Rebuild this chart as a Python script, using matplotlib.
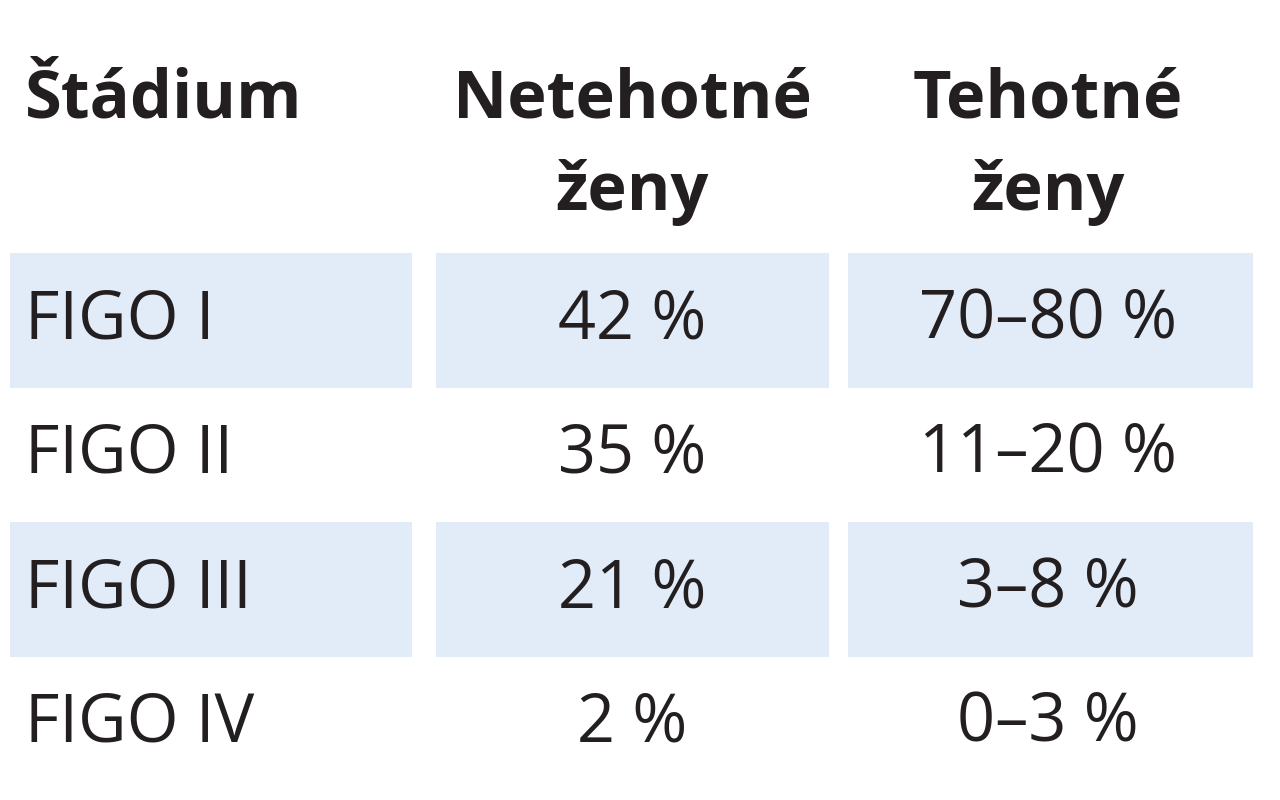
import matplotlib.pyplot as plt
from matplotlib.patches import Rectangle

headers = [["Štádium"], ["Netehotné", "ženy"], ["Tehotné", "ženy"]]
stages = ["FIGO I", "FIGO II", "FIGO III", "FIGO IV"]
nonpregnant = ["42 %", "35 %", "21 %", "2 %"]
pregnant = ["70–80 %", "11–20 %", "3–8 %", "0–3 %"]

fig = plt.figure(figsize=(12.8, 8), dpi=100)
ax = fig.add_axes([0, 0, 1, 1])
ax.set_xlim(0, 1280); ax.set_ylim(800, 0); ax.axis("off")
font = "Open Sans"
col_x = [(10, 412), (436, 829), (848, 1253)]
row_y = [(253, 388), (388, 522), (522, 657), (657, 790)]
blue = "#E2ECF8"
for i, (y0, y1) in enumerate(row_y):
    if i % 2 == 0:
        for x0, x1 in col_x:
            ax.add_patch(Rectangle((x0, y0), x1 - x0, y1 - y0, color=blue, lw=0))
    yc = (y0 + y1) / 2
    ax.text(25, yc, stages[i], fontsize=48, family=font, va="center", ha="left", color="#231f20")
    ax.text(632, yc, nonpregnant[i], fontsize=48, family=font, va="center", ha="center", color="#231f20")
    ax.text(1048, yc, pregnant[i], fontsize=48, family=font, va="center", ha="center", color="#231f20")
ax.text(25, 100, headers[0][0], fontsize=48, family=font, weight="bold", va="center", ha="left", color="#231f20")
for cx, h in zip([632, 1048], headers[1:]):
    ax.text(cx, 100, h[0], fontsize=48, family=font, weight="bold", va="center", ha="center", color="#231f20")
    ax.text(cx, 192, h[1], fontsize=48, family=font, weight="bold", va="center", ha="center", color="#231f20")
fig.savefig("out.png", dpi=100)
